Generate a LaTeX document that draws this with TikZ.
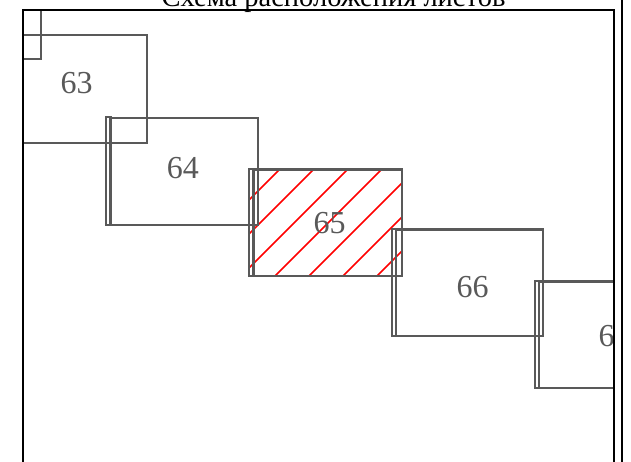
\documentclass[tikz,border=0pt]{standalone}
\usepackage{fontspec}
\setmainfont{Liberation Serif}
\usetikzlibrary{calc}

\definecolor{sheetgray}{RGB}{89,89,89}

\tikzset{
	sheet/.style={draw=sheetgray, line width=2.8pt},
	sheetedge/.style={draw=sheetgray, line width=1.8pt},
	sheetnum/.style={text=sheetgray, inner sep=0pt, font=\fontsize{32}{38}\selectfont},
	hatchline/.style={draw=red, line width=1.7pt},
	frameline/.style={draw=black, line width=1.6pt}
}

\begin{document}
\begin{tikzpicture}[x=1pt, y=-1pt]

	\useasboundingbox (0,0) rectangle (631,461);

	\coordinate (F1) at (23,10);
	\coordinate (F2) at (614,475);

	\node[anchor=base, inner sep=0pt, font=\fontsize{28.5}{34}\selectfont] (title) at (333.5,6.5) {Схема расположения листов};

	\begin{scope}
		\clip (F1) rectangle (F2);

		% current sheet
		\begin{scope}
			\clip (249,169) rectangle (402,276);
			\foreach \c in {449,483,517,551,585,619,653}
				\draw[hatchline] (\c-300,300) -- (\c-140,140);
		\end{scope}

		\draw[sheet] (-80,-50) rectangle (41,59);

		\draw[sheet] (-5,35) rectangle (147,143);

		\draw[sheetedge] (106,117) rectangle (111,225);
		\draw[sheet] (110.5,118) rectangle (258,225);

		\draw[sheetedge] (249,169) rectangle (254,276);
		\draw[sheet] (253.5,169.5) rectangle (402,276);

		\draw[sheetedge] (392,229) rectangle (396.5,336);
		\draw[sheet] (396,229.5) rectangle (543,336);

		\draw[sheetedge] (535,281) rectangle (539.5,388);
		\draw[sheet] (539,281.5) rectangle (688,388);

		\node[sheetnum] (n63) at (76.7,83) {63};
		\node[sheetnum] (n64) at (182.8,168) {64};
		\node[sheetnum] (n65) at (329.5,223) {65};
		\node[sheetnum] (n66) at (472.5,287) {66};
		\node[sheetnum] (n67) at (614.5,336) {67};
	\end{scope}

	\draw[frameline] (23,475) -- (F1) -- (614,10) -- (614,475);
	\draw[black, line width=2.6pt] (622,-5) -- (622,475);

\end{tikzpicture}
\end{document}
